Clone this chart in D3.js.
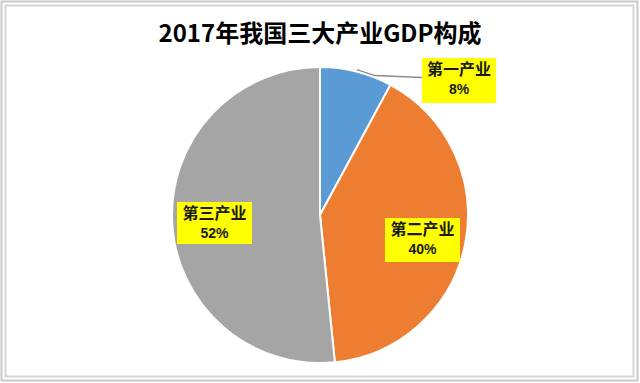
<!DOCTYPE html>
<html><head><meta charset="utf-8">
<script src="https://cdn.jsdelivr.net/npm/d3@7"></script>
<style>body{margin:0;background:#fff}svg{display:block}</style>
</head><body>
<svg id="c" width="640" height="383"></svg>
<script>
const categories = ["第一产业", "第二产业", "第三产业"];
const values = [7.9, 40.5, 51.6];
const pctLabels = ["8%", "40%", "52%"];
const colors = ["#5B9BD5", "#ED7D31", "#A5A5A5"];

const svg = d3.select("#c");
svg.append("rect").attr("x",1.5).attr("y",1.5).attr("width",636).attr("height",379).attr("fill","#fff").attr("stroke","#c8c8c8").attr("stroke-width",2);
svg.append("rect").attr("x",5.5).attr("y",5.5).attr("width",628).attr("height",371).attr("fill","#fff").attr("stroke","#d4d4d4").attr("stroke-width",2);

svg.append("text").attr("x",320).attr("y",42).attr("text-anchor","middle")
  .attr("font-family","'Noto Sans CJK SC', sans-serif").attr("font-weight","bold").attr("font-size",24).attr("fill","#000")
  .text("2017年我国三大产业GDP构成");

const cx = 320, cy = 215, r = 148;
const data = categories.map((c,i)=>({name:c, value:values[i], pct:pctLabels[i], color:colors[i]}));
const pie = d3.pie().value(d=>d.value).sort(null);
const arc = d3.arc().innerRadius(0).outerRadius(r);
const g = svg.append("g").attr("transform",`translate(${cx},${cy})`);
const arcs = pie(data);
g.selectAll("path").data(arcs).join("path").attr("d",arc).attr("fill",d=>d.data.color)
  .attr("stroke","#fff").attr("stroke-width",2);

const boxes = [
  {bx:422, by:58, w:74, h:45},
  {bx:385, by:218, w:75, h:44},
  {bx:177, by:202, w:75, h:42}
];
const a0 = arcs[0];
const mid = (a0.startAngle + a0.endAngle)/2;
const px = cx + Math.sin(mid)*(r+2), py = cy - Math.cos(mid)*(r+2);
svg.append("path").attr("d",`M${px},${py} L${px+18},${py+6} L${boxes[0].bx},${py+8}`)
  .attr("fill","none").attr("stroke","#8c8c8c").attr("stroke-width",1.5);

arcs.forEach((a,i)=>{
  const b = boxes[i];
  svg.append("rect").attr("x",b.bx).attr("y",b.by).attr("width",b.w).attr("height",b.h).attr("fill","#FFFF00");
  svg.append("text").attr("x",b.bx+b.w/2).attr("y",b.by+17).attr("text-anchor","middle")
    .attr("font-family","'Noto Sans CJK SC', sans-serif").attr("font-weight","bold").attr("font-size",16).attr("fill","#1a1a1a")
    .text(a.data.name);
  svg.append("text").attr("x",b.bx+b.w/2).attr("y",b.by+36).attr("text-anchor","middle")
    .attr("font-family","'Liberation Sans', Arial, sans-serif").attr("font-weight","bold").attr("font-size",14).attr("fill","#1a1a1a")
    .text(a.data.pct);
});
</script>
</body></html>
